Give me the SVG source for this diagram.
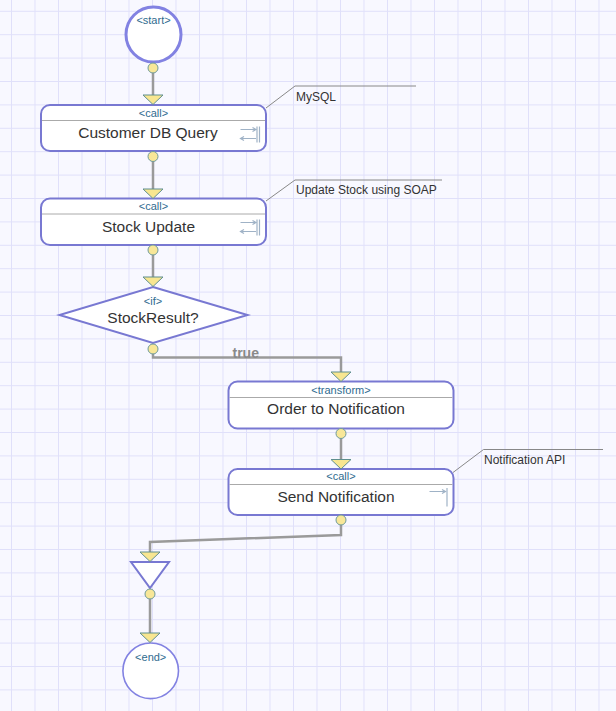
<svg xmlns="http://www.w3.org/2000/svg" width="616" height="711" viewBox="0 0 616 711">
<style>
.box{fill:#fff;stroke:#7878d2;stroke-width:2}
.div{stroke:#aaaaaa;stroke-width:1}
.st{font-family:"Liberation Sans",Arial,sans-serif;font-size:11px;fill:#2f6b8f;text-anchor:middle}
.tt{font-family:"Liberation Sans",Arial,sans-serif;font-size:15.5px;fill:#333;text-anchor:middle}
.note{font-family:"Liberation Sans",Arial,sans-serif;font-size:12px;fill:#333}
.nl{fill:none;stroke:#888;stroke-width:1}
.ic{fill:none;stroke:#9fb2c6;stroke-width:1.2}
.ln{fill:none;stroke:#9a9a9a;stroke-width:2.5}
.pt{fill:#f8e798;stroke:#6f9a9a;stroke-width:1}
.ar{fill:#f8e690;stroke:#5f8f8f;stroke-width:1}
.lbl{font-family:"Liberation Sans",Arial,sans-serif;font-size:14px;font-weight:bold;fill:#8a8a8a}
</style>
<defs>
<pattern id="grid" x="11" y="10.8" width="23.5" height="23.4" patternUnits="userSpaceOnUse">
<path d="M0.5 0V23.4M0 0.5H23.5" stroke="#e0e0fa" stroke-width="1" fill="none"/>
</pattern>
<path id="tri" d="M-10 0H10L0 9.5Z"/>
</defs>
<rect width="616" height="711" fill="#f8f8ff"/>
<rect width="616" height="711" fill="url(#grid)"/>

<g id="start">
<circle cx="153.5" cy="34.5" r="27.5" fill="#fff" stroke="#8282e2" stroke-width="3"/>
<text class="st" x="153.5" y="24">&lt;start&gt;</text>
</g>

<g id="customer-db-query">
<rect class="box" x="41" y="105" width="225" height="46" rx="9"/>
<line class="div" x1="42" y1="120.5" x2="265" y2="120.5"/>
<text class="st" x="153.5" y="116.5">&lt;call&gt;</text>
<text class="tt" x="148" y="138">Customer DB Query</text>
<g class="ic">
<path d="M240.5 129.5H256M252.5 127.5L256 129.5L252.5 131.5"/>
<path d="M256 138.5H240.5M244 136.5L240.5 138.5L244 140.5"/>
<path d="M257 126.5V142.5M259.5 126.5V142.5"/>
</g>
</g>
<g id="note-mysql">
<path class="nl" d="M266 108L295 86H416"/>
<text class="note" x="296" y="101">MySQL</text>
</g>

<g id="stock-update">
<rect class="box" x="41" y="198.5" width="225" height="46.5" rx="9"/>
<line class="div" x1="42" y1="214" x2="265" y2="214"/>
<text class="st" x="153.5" y="210">&lt;call&gt;</text>
<text class="tt" x="148.5" y="231.5">Stock Update</text>
<g class="ic">
<path d="M240.5 222.5H256M252.5 220.5L256 222.5L252.5 224.5"/>
<path d="M256 231.5H240.5M244 229.5L240.5 231.5L244 233.5"/>
<path d="M257 219.5V235.5M259.5 219.5V235.5"/>
</g>
</g>
<g id="note-soap">
<path class="nl" d="M266 201L295 180H442"/>
<text class="note" x="296" y="194">Update Stock using SOAP</text>
</g>

<g id="stock-result">
<path d="M153 287L247.5 315L153 343L59.5 315Z" fill="#fff" stroke="#7878d2" stroke-width="2"/>
<text class="st" x="153" y="305">&lt;if&gt;</text>
<text class="tt" x="153" y="323">StockResult?</text>
</g>

<g id="order-to-notification">
<rect class="box" x="228.5" y="381.5" width="225" height="47" rx="9"/>
<line class="div" x1="229.5" y1="397.5" x2="452.5" y2="397.5"/>
<text class="st" x="341" y="393.5">&lt;transform&gt;</text>
<text class="tt" x="336" y="414">Order to Notification</text>
</g>

<g id="send-notification">
<rect class="box" x="228.5" y="469" width="225" height="46" rx="9"/>
<line class="div" x1="229.5" y1="484.5" x2="452.5" y2="484.5"/>
<text class="st" x="341" y="480">&lt;call&gt;</text>
<text class="tt" x="336" y="501.5">Send Notification</text>
<g class="ic">
<path d="M429.5 491.5H445.5M442 489.5L445.5 491.5L442 493.5"/>
<path d="M447 488V506.5"/>
</g>
</g>
<g id="note-notification-api">
<path class="nl" d="M453 472.5L483.5 449.5H603"/>
<text class="note" x="484" y="463.5">Notification API</text>
</g>

<g id="merge">
<path d="M131 562H169L150 588Z" fill="#fff" stroke="#7878d2" stroke-width="2"/>
</g>

<g id="end">
<circle cx="150.7" cy="670.8" r="27.8" fill="#fff" stroke="#8282e2" stroke-width="1.6"/>
<text class="st" x="150.7" y="661">&lt;end&gt;</text>
</g>

<g id="connectors">
<path class="ln" d="M153 68V95"/>
<path class="ln" d="M153 156V189"/>
<path class="ln" d="M153 250V277"/>
<path class="ln" d="M153 349V357.5H341V372"/>
<path class="ln" d="M341 433V460"/>
<path class="ln" d="M341 520V535L150 542V552"/>
<path class="ln" d="M150 594V633"/>
<text class="lbl" x="232.5" y="357.5">true</text>
<use href="#tri" class="ar" x="153" y="95"/>
<use href="#tri" class="ar" x="153" y="189"/>
<use href="#tri" class="ar" x="153" y="277"/>
<use href="#tri" class="ar" x="341" y="372"/>
<use href="#tri" class="ar" x="341" y="459.5"/>
<use href="#tri" class="ar" x="150" y="552"/>
<use href="#tri" class="ar" x="150" y="633"/>
<circle class="pt" cx="153" cy="68" r="5"/>
<circle class="pt" cx="153" cy="156.5" r="5"/>
<circle class="pt" cx="153" cy="250" r="5"/>
<circle class="pt" cx="153" cy="349" r="5"/>
<circle class="pt" cx="341" cy="433.5" r="5"/>
<circle class="pt" cx="341" cy="520" r="5"/>
<circle class="pt" cx="150" cy="594" r="5"/>
</g>
</svg>
